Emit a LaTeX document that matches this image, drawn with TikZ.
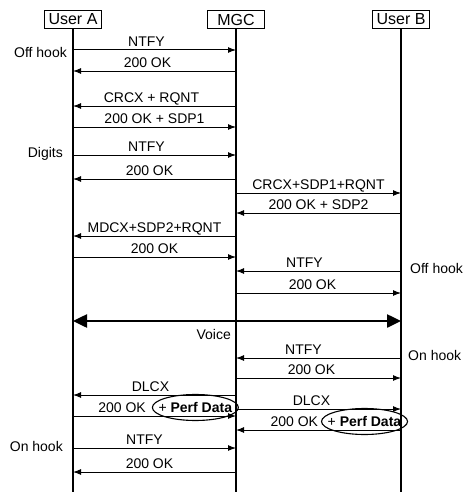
\documentclass[tikz,border=0pt]{standalone}
\usepackage{fontspec}
\setmainfont{Liberation Sans}
\usepackage{tikz}
\usetikzlibrary{arrows.meta}
\tikzstyle{party} = [rectangle, draw=black, line width=1.2pt, minimum width=57pt, minimum height=18pt, inner sep=1pt, font=\fontsize{16}{18}\selectfont]
\tikzstyle{lifeline} = [line width=1.3pt]
\tikzstyle{arrow} = [line width=1pt, -{Latex[length=8pt, width=6pt]}]
\tikzstyle{voice} = [line width=2.5pt, {Triangle[length=14pt, width=13pt]}-{Triangle[length=14pt, width=13pt]}]
\tikzstyle{msg} = [anchor=base, yshift=3.5pt, inner sep=0pt]
\tikzstyle{note} = [inner sep=0pt]

\begin{document}
\begin{tikzpicture}[x=1pt, y=-1pt, font=\fontsize{14}{16}\selectfont]
        \useasboundingbox (0,0) rectangle (472,495);
        % parties and lifelines
        \node (userA) [party] at (73,19.5) {User A};
        \node (mgc) [party] at (236,19.5) {MGC};
        \node (userB) [party] at (401,19.5) {User B};
        \draw [lifeline] (userA.south) -- (userA.south |- 0,492);
        \draw [lifeline] (mgc.south) -- (mgc.south |- 0,492);
        \draw [lifeline] (userB.south) -- (userB.south |- 0,492);

        % side notes
        \node (offA) [note, anchor=base east] at (67,57) {Off hook};
        \node (digits) [note, anchor=base east] at (63,157) {Digits};
        \node (offB) [note, anchor=base west] at (410,273) {Off hook};
        \node (onB) [note, anchor=base west] at (408,360) {On hook};
        \node (onA) [note, anchor=base east] at (63,451) {On hook};

        % call setup
        \draw [arrow] (userA |- 0,50) -- node[msg, xshift=-8pt] {NTFY} (mgc |- 0,50);
        \draw [arrow] (mgc |- 0,71) -- node[msg, xshift=-7pt] {200 OK} (userA |- 0,71);
        \draw [arrow] (mgc |- 0,106) -- node[msg, xshift=-3pt] {CRCX + RQNT} (userA |- 0,106);
        \draw [arrow] (userA |- 0,127) -- node[msg] {200 OK + SDP1} (mgc |- 0,127);
        \draw [arrow] (userA |- 0,155) -- node[msg, xshift=-8pt] {NTFY} (mgc |- 0,155);
        \draw [arrow] (mgc |- 0,179) -- node[msg, xshift=-5pt] {200 OK} (userA |- 0,179);
        \draw [arrow] (mgc |- 0,193) -- node[msg] {CRCX+SDP1+RQNT} (userB |- 0,193);
        \draw [arrow] (userB |- 0,213) -- node[msg] {200 OK + SDP2} (mgc |- 0,213);
        \draw [arrow] (mgc |- 0,236) -- node[msg] {MDCX+SDP2+RQNT} (userA |- 0,236);
        \draw [arrow] (userA |- 0,257) -- node[msg] {200 OK} (mgc |- 0,257);
        \draw [arrow] (userB |- 0,271) -- node[msg, xshift=-14pt] {NTFY} (mgc |- 0,271);
        \draw [arrow] (mgc |- 0,293) -- node[msg, xshift=-6pt] {200 OK} (userB |- 0,293);

        % media path
        \draw [voice] (userA |- 0,321) -- node[note, pos=0.485, anchor=base east, yshift=-18pt] {Voice} (userB |- 0,321);

        % release
        \draw [arrow] (userB |- 0,358) -- node[msg, xshift=-15pt] {NTFY} (mgc |- 0,358);
        \draw [arrow] (mgc |- 0,378) -- node[msg, xshift=-7pt] {200 OK} (userB |- 0,378);
        \draw [arrow] (mgc |- 0,395) -- node[msg, xshift=-4pt] {DLCX} (userA |- 0,395);
        \draw [arrow] (userA |- 0,416) -- node[msg, pos=0.45, anchor=base east] (okA) {200 OK} (mgc |- 0,416);
        \node (perfA) [note, anchor=base west, xshift=12pt] at (okA.base east) {+ \textbf{Perf Data}};
        \draw [line width=1.1pt] (perfA.center) ellipse [x radius=43pt, y radius=13pt];
        \draw [arrow] (mgc |- 0,409) -- node[msg, xshift=-7pt] {DLCX} (userB |- 0,409);
        \draw [arrow] (userB |- 0,430) -- node[msg, anchor=base east] (okB) {200 OK} (mgc |- 0,430);
        \node (perfB) [note, anchor=base west, xshift=9pt] at (okB.base east) {+ \textbf{Perf Data}};
        \draw [line width=1.1pt] (perfB.center) ellipse [x radius=43pt, y radius=13pt];
        \draw [arrow] (userA |- 0,448) -- node[msg, xshift=-10pt] {NTFY} (mgc |- 0,448);
        \draw [arrow] (mgc |- 0,472) -- node[msg, xshift=-5pt] {200 OK} (userA |- 0,472);
\end{tikzpicture}
\end{document}
